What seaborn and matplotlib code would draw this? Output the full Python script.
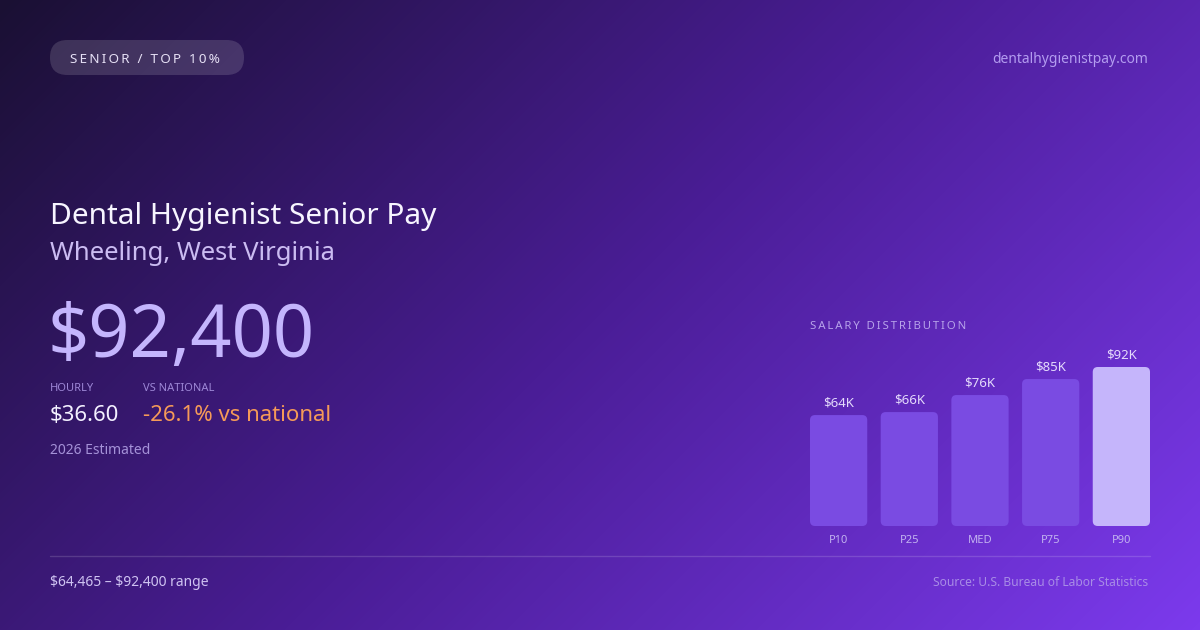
import numpy as np
import matplotlib
matplotlib.use("Agg")
import matplotlib.pyplot as plt
from matplotlib.colors import LinearSegmentedColormap
from matplotlib.patches import FancyBboxPatch
import seaborn as sns

# chart data
categories = ["P10", "P25", "MED", "P75", "P90"]
salaries = [64465, 66200, 76100, 85400, 92400]
bar_colors = ["#7a4be2", "#7a4be2", "#7a4be2", "#7a4be2", "#c5b5fb"]

title = "Dental Hygienist Senior Pay"
location = "Wheeling, West Virginia"
annual = "$92,400"
hourly = "$36.60"
vs_national = "-26.1% vs national"
badge = "SENIOR / TOP 10%"
site = "dentalhygienistpay.com"
range_text = "$64,465 \u2013 $92,400 range"
source = "Source: U.S. Bureau of Labor Statistics"

sns.set_theme(style="white")
plt.rcParams["font.family"] = ["Noto Sans", "DejaVu Sans"]
plt.rcParams["text.parse_math"] = False

W, H = 1200, 630
fig = plt.figure(figsize=(12, 6.3), dpi=100)

# --- background gradient (135deg) ---
bg = fig.add_axes([0, 0, 1, 1])
xx, yy = np.meshgrid(np.arange(W), np.arange(H))
t = (xx + yy) / (W + H)
cmap = LinearSegmentedColormap.from_list("bg", ["#1a1033", "#4a1d96", "#7c3aed"])
bg.imshow(t, cmap=cmap, extent=(0, W, H, 0), aspect="auto", interpolation="bilinear")
bg.set_xlim(0, W)
bg.set_ylim(H, 0)
bg.axis("off")


def spaced(s):
    return "\u2009".join(s)


# badge pill
bg.add_patch(FancyBboxPatch((50, 40), 194, 35, boxstyle="round,pad=0,rounding_size=17.5",
                            facecolor="white", alpha=0.14, edgecolor="none"))
bg.text(70, 63, spaced(badge), fontsize=9.7, color="#e6e0f5", va="baseline")
bg.text(1148, 63, site, fontsize=10, color="#b39cf0", ha="right", va="baseline")

# headline block
bg.text(50, 224, title, fontsize=21.5, color="#f7f5ff", va="baseline")
bg.text(50, 260, location, fontsize=18.5, color="#cbbcf2", va="baseline")
bg.text(48, 357, annual, fontsize=52, color="#c4b5fd", va="baseline")
bg.text(50, 391, "HOURLY", fontsize=8, color="#9d87d6", va="baseline")
bg.text(143, 391, "VS NATIONAL", fontsize=8, color="#9d87d6", va="baseline")
bg.text(50, 421, hourly, fontsize=16, color="#f3f0ff", va="baseline")
bg.text(143, 421, vs_national, fontsize=16, color="#f59a58", va="baseline")
bg.text(50, 454, "2026 Estimated", fontsize=10, color="#a592d8", va="baseline")

# footer
bg.plot([50, 1150], [556, 556], color="white", alpha=0.15, lw=1)
bg.text(50, 586, range_text, fontsize=10, color="#cfc3f2", va="baseline")
bg.text(1148, 586, source, fontsize=8.7, color="#a88ce6", ha="right", va="baseline")

bg.text(810, 329, spaced("SALARY DISTRIBUTION"), fontsize=8.2, color="#b7a3ea", va="baseline")

# --- salary distribution bars ---
ax = fig.add_axes([810 / W, 1 - 526 / H, 340 / W, 159 / H])
ax.patch.set_alpha(0)
sns.barplot(x=categories, y=salaries, hue=categories, palette=bar_colors,
            legend=False, width=0.81, saturation=1, ax=ax)
ax.set_xlim(-0.405, len(categories) - 1 + 0.405)
ax.set_ylim(0, max(salaries))

# swap plain bars for rounded ones
px_x = (ax.get_xlim()[1] - ax.get_xlim()[0]) / 340
px_y = max(salaries) / 159
for p in list(ax.patches):
    x0, w, h = p.get_x(), p.get_width(), p.get_height()
    fc = p.get_facecolor()
    p.remove()
    ax.add_patch(FancyBboxPatch((x0, 0), w, h,
                                boxstyle=f"round,pad=0,rounding_size={5 * px_x}",
                                mutation_aspect=px_y / px_x,
                                facecolor=fc, edgecolor="none", clip_on=False))

for i, v in enumerate(salaries):
    ax.annotate(f"${v / 1000:.0f}K", (i, v), xytext=(0, 6), textcoords="offset points",
                ha="center", va="baseline", fontsize=9.5, color="#e4dafc")
    ax.annotate(categories[i], (i, 0), xytext=(0, -12.3), textcoords="offset points",
                ha="center", va="baseline", fontsize=8, color="#c2b2f0")

ax.axis("off")

fig.savefig("out.png", dpi=100)
